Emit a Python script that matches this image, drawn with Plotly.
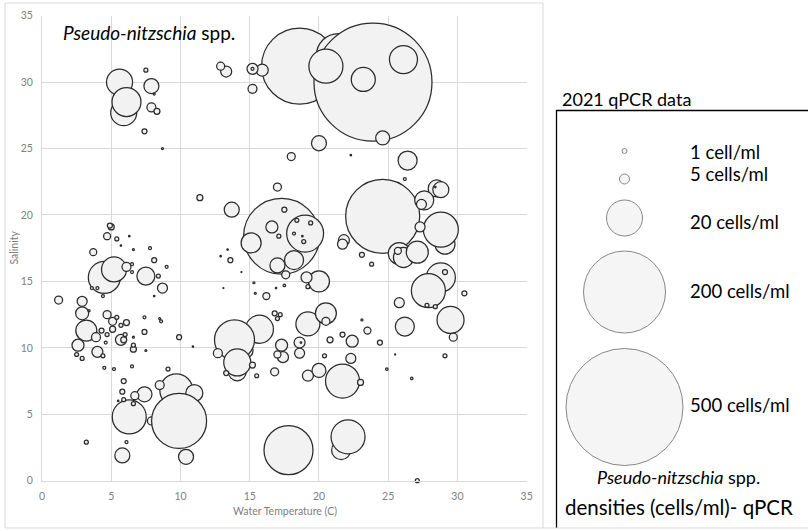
import plotly.graph_objects as go

# ---------------- data (draw order = list order) ----------------
water_temp = [
    18.6, 21.4, 23.9, 20.5, 23.2, 26.1, 17.3, 24.6, 17.8, 9.7,
    11.0, 7.9, 9.9, 6.3, 14.7, 15.7, 13.9, 14.1, 14.1, 19.0,
    29.1, 28.8, 21.6, 22.1, 21.7, 28.8, 27.9, 4.5, 5.2, 5.6,
    5.9, 6.1, 29.5, 19.2, 25.8, 26.1, 27.1, 3.2, 20.5, 20.0,
    15.1, 26.4, 28.5, 28.8, 27.6, 18.2, 26.2, 7.5, 7.9, 20.0,
    13.7, 17.0, 7.4, 5.8, 10.4, 24.6, 20.0, 2.9, 15.9, 16.6,
    2.6, 17.3, 22.4, 13.3, 15.2, 21.8, 19.1, 5.7, 4.0, 18.6,
    17.4, 19.2, 21.7, 27.4, 27.3, 2.9, 8.7, 18.6, 22.3, 25.8,
    7.9, 15.2, 6.1, 3.9, 8.5, 12.7, 12.9, 18.0, 17.0, 17.6,
    1.2, 4.7, 5.1, 6.7, 20.5, 16.8, 29.7, 25.7, 16.2, 4.7,
    3.7, 17.0, 23.5, 8.3, 11.4, 5.0, 5.1, 6.1, 5.9, 6.6,
    15.2, 20.8, 23.0, 7.4, 23.1, 17.5, 13.6, 4.9, 8.1, 4.3,
    7.4, 9.9, 5.9, 5.8, 16.8, 21.7, 24.4, 29.1, 30.5, 13.3,
    7.5, 23.8, 17.1, 18.4, 19.4, 18.9, 19.2, 5.4, 8.4, 2.5,
    2.9, 5.4, 4.7, 5.7, 6.0, 4.4, 6.6, 9.1, 5.9, 6.6,
    3.2, 15.5, 17.0, 17.2, 20.4, 27.8, 28.4, 29.1, 27.1, 15.2,
    26.2, 18.2, 7.8, 6.5, 6.5, 9.0, 3.6, 4.0, 4.4, 4.6,
    7.4, 8.6, 4.5, 5.2, 6.5, 6.1, 17.5, 24.9, 26.7, 8.1,
    8.7, 15.3, 15.4, 6.6, 3.4, 6.6, 8.5, 7.5, 23.1, 22.3,
    28.4, 18.8, 13.4, 12.9, 16.9, 6.3, 5.7, 8.1, 10.9, 5.5,
    18.7, 25.5, 13.1, 14.4,
]
salinity = [
    31.2, 32.0, 30.0, 31.2, 30.2, 31.7, 18.4, 19.9, 2.3, 6.8,
    6.6, 4.5, 4.5, 4.8, 9.8, 11.4, 10.6, 8.2, 8.9, 18.6,
    17.8, 18.9, 2.3, 3.3, 7.5, 15.3, 14.3, 15.3, 15.9, 30.0,
    27.7, 28.5, 12.1, 11.8, 17.1, 16.8, 17.2, 11.3, 12.6, 15.0,
    17.9, 24.1, 22.0, 21.9, 21.1, 16.6, 11.6, 15.4, 29.7, 25.4,
    20.4, 16.2, 6.5, 1.9, 1.8, 25.8, 8.3, 12.6, 30.9, 19.1,
    10.2, 10.2, 10.5, 30.8, 31.0, 18.1, 15.3, 10.6, 9.7, 10.4,
    9.3, 7.9, 17.8, 20.8, 19.1, 13.5, 14.5, 9.6, 9.2, 13.4,
    28.1, 29.5, 16.1, 10.8, 7.2, 9.6, 31.2, 24.4, 22.1, 15.5,
    13.6, 12.5, 12.0, 6.4, 12.0, 8.2, 10.8, 17.3, 13.9, 18.4,
    17.2, 9.5, 11.3, 27.8, 21.3, 19.1, 11.4, 11.9, 10.6, 9.9,
    8.7, 10.6, 7.4, 26.3, 17.0, 20.4, 16.6, 19.2, 16.6, 11.3,
    11.2, 10.8, 7.5, 6.7, 12.6, 11.0, 10.4, 15.7, 14.1, 8.1,
    30.9, 16.3, 18.4, 19.6, 19.4, 18.0, 14.6, 18.2, 15.4, 9.5,
    9.2, 12.3, 11.0, 11.7, 11.0, 9.4, 10.2, 8.4, 6.1, 5.8,
    2.9, 7.9, 12.2, 12.5, 9.4, 13.2, 13.1, 9.4, 0.0, 31.0,
    22.7, 18.6, 17.5, 15.7, 16.3, 16.1, 14.5, 14.5, 13.9, 10.4,
    12.3, 12.0, 8.5, 8.4, 8.6, 2.9, 14.7, 8.4, 7.7, 29.1,
    25.0, 14.9, 14.1, 17.4, 12.8, 10.8, 12.2, 9.8, 12.1, 24.5,
    22.1, 18.4, 17.4, 16.9, 14.5, 18.4, 17.7, 13.9, 10.1, 6.0,
    10.4, 9.5, 14.5, 15.7,
]
density = [
    207, 69.5, 500, 41.5, 20.7, 28.2, 207, 197, 86.2, 39.1,
    10.4, 2.3, 108.6, 41.5, 8.1, 28.2, 57.5, 11.6, 26.2, 49,
    14.4, 44, 13.0, 41.5, 41.5, 30.2, 41.5, 36.8, 22.4, 24.3,
    24.3, 30.2, 26.2, 20.7, 17.4, 14.4, 17.4, 15.8, 15.8, 15.8,
    14.4, 13.0, 10.4, 9.2, 13.0, 13.0, 13.0, 11.6, 8.1, 8.1,
    8.1, 8.1, 8.1, 8.1, 8.1, 7.0, 7.0, 6.1, 5.2, 5.2,
    5.2, 5.2, 5.2, 4.35, 4.35, 4.35, 4.35, 4.35, 4.35, 4.35,
    4.35, 4.35, 3.6, 3.6, 3.6, 3.6, 3.6, 3.6, 3.6, 3.6,
    2.9, 2.9, 2.9, 2.9, 2.9, 2.9, 2.3, 2.3, 2.3, 2.3,
    2.3, 2.3, 2.3, 2.3, 2.3, 2.3, 2.3, 1.76, 1.76, 1.76,
    1.76, 1.76, 1.76, 1.3, 1.3, 1.3, 1.3, 1.3, 1.3, 1.3,
    1.3, 1.3, 1.3, 0.9, 0.9, 0.9, 0.9, 0.9, 0.9, 0.9,
    0.9, 0.9, 0.9, 0.9, 0.9, 0.9, 0.9, 0.9, 0.9, 0.9,
    0.57, 0.57, 0.57, 0.57, 0.57, 0.57, 0.57, 0.57, 0.57, 0.57,
    0.57, 0.57, 0.57, 0.57, 0.57, 0.57, 0.57, 0.57, 0.57, 0.57,
    0.57, 0.57, 0.57, 0.57, 0.57, 0.57, 0.57, 0.57, 0.57, 0.32,
    0.32, 0.32, 0.32, 0.32, 0.32, 0.32, 0.32, 0.32, 0.32, 0.32,
    0.32, 0.32, 0.32, 0.32, 0.32, 0.32, 0.22, 0.22, 0.22, 0.14,
    0.14, 0.14, 0.14, 0.14, 0.14, 0.14, 0.14, 0.14, 0.14, 0.08,
    0.08, 0.08, 0.08, 0.08, 0.08, 0.08, 0.08, 0.08, 0.08, 0.08,
    0.08, 0.04, 0.04, 0.04,
]

x_ticks = [0, 5, 10, 15, 20, 25, 30, 35]
y_ticks = [0, 5, 10, 15, 20, 25, 30, 35]

legend_values = [1, 5, 20, 200, 500]
legend_labels = ["1 cell/ml", "5 cells/ml", "20 cells/ml", "200 cells/ml", "500 cells/ml"]

# ---------------- styling / layout constants ----------------
W, H = 808, 531
FONT = "Lato, 'Open Sans', sans-serif"
GRID = "#d9d9d9"
TICKC = "#808080"
FILL = "#f2f2f2"
EDGE = "#2b2b2b"
MAX_D = 118  # px diameter of the largest bubble

# legend key geometry (pixel placement inside the legend box)
legend_key_px = [5, 10, 36, 82, 117]
legend_key_y = [151, 179, 218, 292, 407]
legend_label_y = [152, 174, 222, 291, 405]


def px(x):
    return x / W


def py(y):
    return 1 - y / H


fig = go.Figure()

fig.add_trace(go.Scatter(
    x=water_temp, y=salinity, mode="markers",
    marker=dict(
        size=density, sizemode="area",
        sizeref=2.0 * max(density) / MAX_D ** 2, sizemin=0,
        color=FILL, opacity=1,
        line=dict(color=EDGE, width=1.25),
    ),
    cliponaxis=False, hoverinfo="x+y+text", text=[f"{d} cells/ml" for d in density],
    showlegend=False,
))

# legend keys on an auxiliary axis pair (pixel-like coordinates)
fig.add_trace(go.Scatter(
    x=[624.5] * len(legend_values), y=legend_key_y, mode="markers",
    xaxis="x2", yaxis="y2",
    marker=dict(size=legend_key_px, sizemode="diameter", color=FILL,
                line=dict(color="#555555", width=1)),
    text=legend_labels, hoverinfo="text", cliponaxis=False, showlegend=False,
))

annotations = [
    dict(text="<i>Pseudo-nitzschia</i> spp.", xref="paper", yref="paper",
         x=px(61), y=py(33), xanchor="left", yanchor="middle", showarrow=False,
         font=dict(family=FONT, size=19, color="#000000")),
    dict(text="Water Temperature (C)", xref="paper", yref="paper",
         x=px(284.5), y=py(510.5), xanchor="center", yanchor="middle", showarrow=False,
         font=dict(family=FONT, size=10.5, color=TICKC)),
    dict(text="Salinity", xref="paper", yref="paper", textangle=-90,
         x=px(13.5), y=py(248), xanchor="center", yanchor="middle", showarrow=False,
         font=dict(family=FONT, size=10.5, color=TICKC)),
    dict(text="2021 qPCR data", xref="paper", yref="paper",
         x=px(560), y=py(99), xanchor="left", yanchor="middle", showarrow=False,
         font=dict(family=FONT, size=18, color="#000000")),
    dict(text="<i>Pseudo-nitzschia</i> spp.", xref="paper", yref="paper",
         x=px(678.5), y=py(477), xanchor="center", yanchor="middle", showarrow=False,
         font=dict(family=FONT, size=18, color="#000000")),
    dict(text="densities (cells/ml)- qPCR", xref="paper", yref="paper",
         x=px(679), y=py(507), xanchor="center", yanchor="middle", showarrow=False,
         font=dict(family=FONT, size=20.5, color="#000000")),
]
for lab, yy in zip(legend_labels, legend_label_y):
    annotations.append(dict(text=lab, xref="x2", yref="y2", x=688, y=yy,
                            xanchor="left", yanchor="middle", showarrow=False,
                            font=dict(family=FONT, size=18.5, color="#000000")))

shapes = [
    # outer chart frame
    dict(type="rect", xref="paper", yref="paper",
         x0=px(5), x1=px(543), y0=py(528), y1=py(3),
         line=dict(color=GRID, width=1), layer="below"),
    # legend box (left + top black, bottom grey)
    dict(type="path", xref="paper", yref="paper",
         path=f"M {px(556.5)} {py(528)} L {px(556.5)} {py(110.5)} L {px(812)} {py(110.5)}",
         line=dict(color="#000000", width=1.3)),
    dict(type="line", xref="paper", yref="paper",
         x0=px(543), x1=px(812), y0=py(528), y1=py(528),
         line=dict(color=GRID, width=1)),
]

axis_common = dict(
    range=[0, 35], tickmode="array", showgrid=True, gridcolor=GRID, gridwidth=1,
    showline=True, linecolor=GRID, linewidth=1, zeroline=False, ticks="",
    tickfont=dict(family=FONT, size=10.5, color=TICKC), fixedrange=True,
    automargin=False,
)

fig.update_layout(
    width=W, height=H, autosize=False,
    margin=dict(l=0, r=0, t=0, b=0, pad=0, autoexpand=False),
    paper_bgcolor="white", plot_bgcolor="white",
    showlegend=False,
    xaxis=dict(domain=[px(42), px(526.7)], tickvals=x_ticks,
               ticktext=[str(t) for t in x_ticks], ticklabelstandoff=6,
               anchor="y", mirror=False, **axis_common),
    yaxis=dict(domain=[py(480.7), py(15.7)], tickvals=y_ticks,
               ticktext=[str(t) for t in y_ticks], ticklabelstandoff=6,
               anchor="x", **axis_common),
    xaxis2=dict(domain=[px(556), 1], range=[556, 808], visible=False,
                anchor="y2", fixedrange=True, automargin=False),
    yaxis2=dict(domain=[0, py(110)], range=[531, 110], visible=False,
                anchor="x2", fixedrange=True, automargin=False),
    annotations=annotations,
    shapes=shapes,
    font=dict(family=FONT),
)

fig.write_html(
    "out.html",
    config={"displayModeBar": False},
    post_script="document.body.style.margin='0';document.body.style.overflow='hidden';",
)
